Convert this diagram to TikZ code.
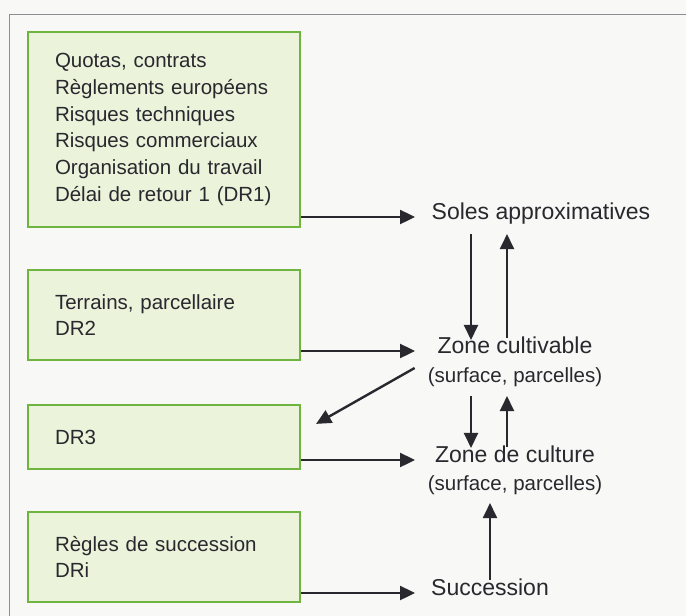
\documentclass[tikz,border=0pt]{standalone}
\usepackage{fontspec}
\setmainfont{Liberation Sans}
\usetikzlibrary{arrows.meta}
\definecolor{bg_gray}{RGB}{248,248,246}
\definecolor{frame_gray}{RGB}{140,140,145}
\definecolor{box_fill}{RGB}{236,243,219}
\definecolor{box_green}{RGB}{112,180,64}
\definecolor{ink}{RGB}{40,40,46}
\tikzset{
  constraint/.style={draw=box_green, line width=2.2pt, fill=box_fill, text=ink,
    minimum width=272pt, text width=218pt, inner xsep=27pt, align=left,
    font=\fontsize{20.5}{26.7}\selectfont},
  result/.style={inner sep=0pt, text=ink, text height=0.75em, text depth=0.22em,
    font=\fontsize{23}{27}\selectfont},
  detail/.style={result, font=\fontsize{20.5}{24}\selectfont},
  flow/.style={draw=ink, line width=2.4pt, -{Triangle[length=15pt,width=14pt]}},
}
\begin{document}
\begin{tikzpicture}[x=1pt, y=-1pt]
    % page and frame
    \fill[bg_gray] (0,0) rectangle (686,616);
    \useasboundingbox (0,0) rectangle (686,616);
    \draw[frame_gray, line width=1pt] (9,616) -- (9,14) -- (686,14);
    % constraint boxes
    \node[constraint, minimum height=195pt] (limits) at (164,129.5)
        {Quotas, contrats\\Règlements européens\\Risques techniques\\Risques commerciaux\\Organisation du travail\\Délai de retour 1 (DR1)};
    \node[constraint, minimum height=90pt] (terrains) at (164,315)
        {Terrains, parcellaire\\DR2};
    \node[constraint, minimum height=64pt] (dr_three) at (164,437) {DR3};
    \node[constraint, minimum height=90pt] (succ_rules) at (164,557)
        {Règles de succession\\DRi};
    % results
    \node[result] (soles) at (541,217) {Soles approximatives};
    \node[result] (zone_cult) at (515,351) {Zone cultivable};
    \node[detail] (zone_cult_sub) at (515,380) {(surface, parcelles)};
    \node[result] (zone_crop) at (515,460) {Zone de culture};
    \node[detail] (zone_crop_sub) at (515,488) {(surface, parcelles)};
    \node[result] (succession) at (490,593) {Succession};
    % arrow columns
    \coordinate (col_tip) at (415,0);
    \coordinate (col_down) at (471,0);
    \coordinate (col_up) at (507,0);
    % horizontal arrows
    \draw[flow] (limits.east |- soles.west) -- (col_tip |- soles.west);
    \draw[flow] (terrains.east |- zone_cult.west) -- (col_tip |- zone_cult.west);
    \draw[flow] (dr_three.east |- zone_crop.west) -- (col_tip |- zone_crop.west);
    \draw[flow] (succ_rules.east |- succession.west) -- (col_tip |- succession.west);
    % vertical arrows
    \draw[flow, shorten <=12pt, shorten >=6pt] (col_down |- soles.south) -- (col_down |- zone_cult.north);
    \draw[flow, shorten <=8pt, shorten >=12pt] (col_up |- zone_cult.north) -- (col_up |- soles.south);
    \draw[flow, shorten <=11pt, shorten >=7pt] (col_down |- zone_cult_sub.south) -- (col_down |- zone_crop.north);
    \draw[flow, shorten <=8pt, shorten >=11pt] (col_up |- zone_crop.north) -- (col_up |- zone_cult_sub.south);
    \draw[flow, shorten <=8pt, shorten >=10pt] (succession.north) -- (succession.north |- zone_crop_sub.south);
    % feedback to DR3
    \draw[flow] ([shift={(-13pt,12pt)}]zone_cult_sub.west) -- ([shift={(15pt,-20pt)}]dr_three.north east);
\end{tikzpicture}
\end{document}
